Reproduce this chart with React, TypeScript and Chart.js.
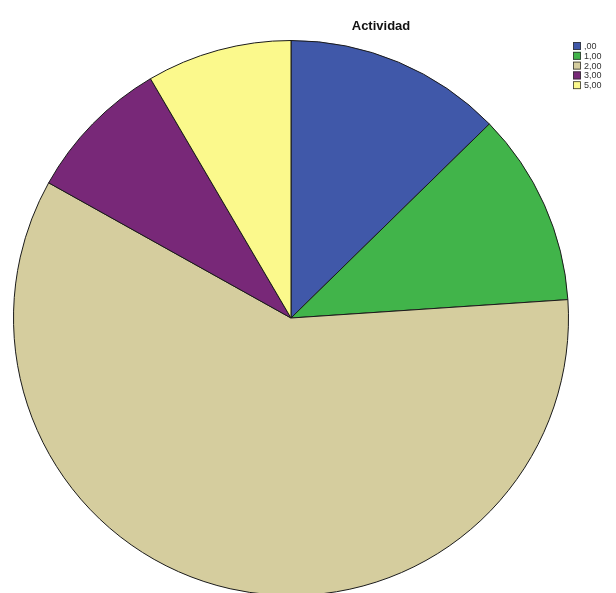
import React, { useEffect, useRef } from "react";
import { Chart, registerables } from "chart.js";

Chart.register(...registerables);

const title = "Actividad";
const categories = [",00", "1,00", "2,00", "3,00", "5,00"];
const counts = [9, 8, 42, 6, 6];
const colors = ["#4058a9", "#41b44a", "#d5cd9e", "#782878", "#fbf98c"];

const legendPlugin = {
  id: "spssLegend",
  afterDraw(chart: any) {
    const ctx = chart.ctx;
    ctx.save();
    ctx.font = "bold 13px Arial, 'Liberation Sans', sans-serif";
    ctx.fillStyle = "#111";
    ctx.textAlign = "center";
    ctx.textBaseline = "middle";
    ctx.fillText(title, 381, 26);
    ctx.font = "9px Arial, 'Liberation Sans', sans-serif";
    ctx.textAlign = "left";
    categories.forEach((c, i) => {
      const y = 46 + i * 9.8;
      ctx.fillStyle = colors[i];
      ctx.fillRect(573, y - 4, 8, 8);
      ctx.strokeStyle = "#333";
      ctx.lineWidth = 0.8;
      ctx.strokeRect(573.5, y - 3.5, 7, 7);
      ctx.fillStyle = "#333";
      ctx.fillText(c, 584, y + 0.5);
    });
    ctx.restore();
  },
};

export default function App() {
  const ref = useRef<HTMLCanvasElement>(null);
  useEffect(() => {
    if (!ref.current) return;
    const chart = new Chart(ref.current, {
      type: "pie",
      data: {
        labels: categories,
        datasets: [
          {
            data: counts,
            backgroundColor: colors,
            borderColor: "#1a1a1a",
            borderWidth: 1,
          },
        ],
      },
      options: {
        animation: false,
        responsive: false,
        layout: { padding: { top: 40, bottom: 4, left: 13, right: 47 } },
        plugins: {
          legend: { display: false },
          title: { display: false },
          tooltip: { enabled: false },
        },
      },
      plugins: [legendPlugin],
    });
    return () => chart.destroy();
  }, []);
  return (
    <div style={{ position: "absolute", left: 0, top: 0, width: 616, height: 600, background: "#fff" }}>
      <canvas ref={ref} width={616} height={600} />
    </div>
  );
}
